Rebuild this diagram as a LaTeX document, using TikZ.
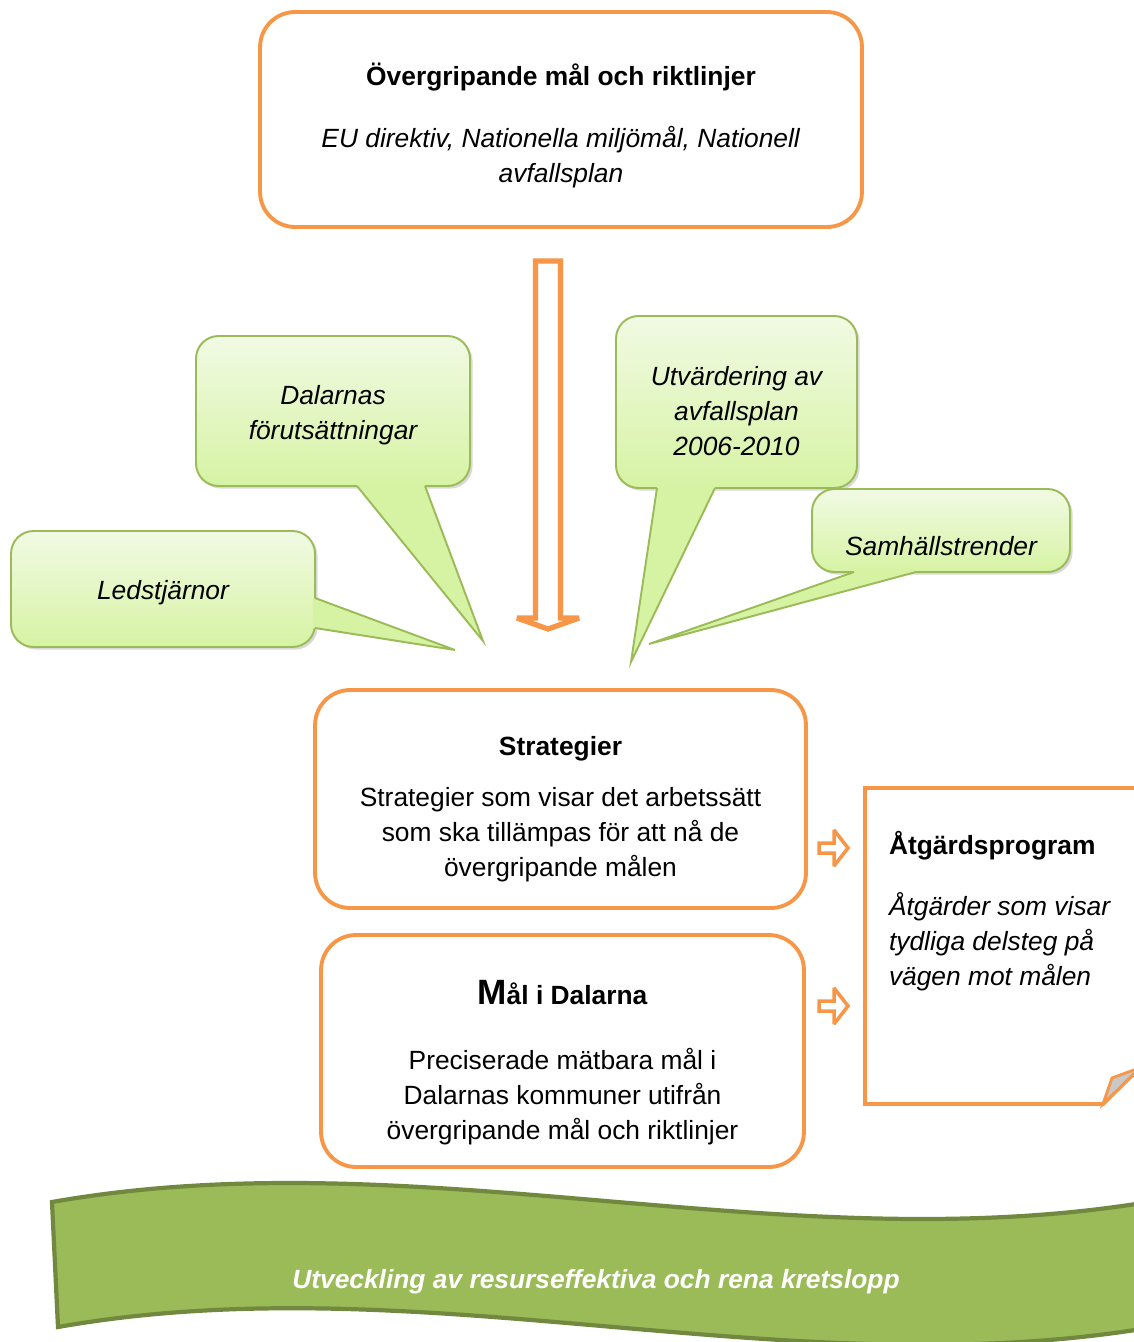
\documentclass[tikz,border=0pt]{standalone}
\usepackage{fontspec}
\setmainfont{Liberation Sans}
\usetikzlibrary{shapes,arrows,calc,shadows,positioning}
\definecolor{orangeline}{HTML}{F79646}
\definecolor{greenline}{HTML}{9BBB59}
\definecolor{greentop}{HTML}{F1FAE4}
\definecolor{greenbottom}{HTML}{D6F3A3}
\definecolor{bandfill}{HTML}{9BBB59}
\definecolor{bandline}{HTML}{71893F}
\definecolor{foldgray}{HTML}{C9C9C9}

\begin{document}
\begin{tikzpicture}[x=0.02cm, y=-0.02cm, outer sep=0pt, >=latex',
  every node/.style={font=\fontsize{15}{19.9}\selectfont},
  planbox/.style={draw=orangeline, line width=2.2pt, rounded corners=0.7cm, fill=white, align=center},
  bubble/.style={draw=greenline, line width=1.1pt, rounded corners=0.45cm, top color=greentop, bottom color=greenbottom, align=center, font=\fontsize{15}{19.9}\selectfont\itshape, drop shadow={shadow xshift=1.5pt, shadow yshift=-1.5pt, opacity=0.3}},
  tail/.style={fill=greenbottom},
  tailline/.style={draw=greenline, line width=1.1pt, line join=miter},
  blockarrow/.style={draw=orangeline, fill=white, line join=miter, miter limit=3}]

\useasboundingbox (0,0) rectangle (1133,1342);

\node at (561, 119.5) (goal) [planbox, minimum width=12.04cm, minimum height=4.3cm]
  {\rule{0pt}{23pt}\textbf{Övergripande mål och riktlinjer}\\[0.54cm]
   \textit{EU direktiv, Nationella miljömål, Nationell}\\
   \textit{avfallsplan}\rule[-6pt]{0pt}{6pt}};

\draw [blockarrow, line width=3pt] (535.5,261) -- (560.5,261) -- (560.5,618) -- (579,618) -- (548,629) -- (517,618) -- (535.5,618) -- cycle;

% callouts
\node at (333, 411) (dal) [bubble, minimum width=5.48cm, minimum height=3cm] {\rule{0pt}{18.4pt}Dalarnas\\förutsättningar\rule[-6pt]{0pt}{6pt}};
\coordinate (dtip) at (483, 641);
\fill [tail] ($(dal.south)+(24,-2)$) -- ($(dal.south)+(24,0)$) -- (dtip) -- ($(dal.south)+(92,0)$) -- ($(dal.south)+(92,-2)$) -- cycle;
\draw [tailline] ($(dal.south)+(24,0)$) -- (dtip) -- ($(dal.south)+(92,0)$);

\node at (163, 589) (led) [bubble, minimum width=6.08cm, minimum height=2.32cm, text height=18.4pt, text depth=6pt] {Ledstjärnor};
\coordinate (ltip) at (455, 650);
\fill [tail] ($(led.east)+(-2,9)$) -- ($(led.east)+(0,9)$) -- (ltip) -- ($(led.east)+(0,39)$) -- ($(led.east)+(-2,39)$) -- cycle;
\draw [tailline] ($(led.east)+(0,9)$) -- (ltip) -- ($(led.east)+(0,39)$);

\node at (736.5, 402) (utv) [bubble, minimum width=4.82cm, minimum height=3.44cm] {\rule{0pt}{27.5pt}Utvärdering av\\avfallsplan\\2006-2010\rule[-6pt]{0pt}{6pt}};
\coordinate (utip) at (631, 662);
\fill [tail] ($(utv.south)+(-79.5,-2)$) -- ($(utv.south)+(-79.5,0)$) -- (utip) -- ($(utv.south)+(-21.5,0)$) -- ($(utv.south)+(-21.5,-2)$) -- cycle;
\draw [tailline] ($(utv.south)+(-79.5,0)$) -- (utip) -- ($(utv.south)+(-21.5,0)$);

\node at (941, 530.5) (sam) [bubble, minimum width=5.16cm, minimum height=1.66cm, text height=1cm] {Samhällstrender};
\coordinate (stip) at (649, 644);
\fill [tail] ($(sam.south)+(-87,-2)$) -- ($(sam.south)+(-87,0)$) -- (stip) -- ($(sam.south)+(-25,0)$) -- ($(sam.south)+(-25,-2)$) -- cycle;
\draw [tailline] ($(sam.south)+(-87,0)$) -- (stip) -- ($(sam.south)+(-25,0)$);

\node at (560.5, 799) (strat) [planbox, minimum width=9.82cm, minimum height=4.36cm]
  {\rule{0pt}{25pt}\textbf{Strategier}\\[0.32cm]
   Strategier som visar det arbetssätt\\
   som ska tillämpas för att nå de\\
   övergripande målen\rule[-6pt]{0pt}{6pt}};

\node at (562.5, 1051) (maal) [planbox, minimum width=9.66cm, minimum height=4.64cm]
  {\rule{0pt}{30.3pt}\textbf{{\fontsize{20}{19.9}\selectfont M}ål i Dalarna}\\[0.6cm]
   Preciserade mätbara mål i\\
   Dalarnas kommuner utifrån\\
   övergripande mål och riktlinjer\rule[-6pt]{0pt}{6pt}};

\draw [blockarrow, line width=2pt] (819,843) -- (834,843) -- (834,830) -- (848,848) -- (834,866) -- (834,853) -- (819,853) -- cycle;
\draw [blockarrow, line width=2pt] (819,1001) -- (834,1001) -- (834,988) -- (848,1006) -- (834,1024) -- (834,1011) -- (819,1011) -- cycle;

% folded note
\draw [draw=orangeline, line width=2.2pt, fill=white] (865,788) -- (1160,788) -- (1160,1048) -- (1103,1104) -- (865,1104) -- cycle;
\draw [draw=orangeline, line width=1.6pt, fill=foldgray] (1103,1104) -- (1112,1078) -- (1140,1067.7) -- cycle;
\node at (889, 831) (atg) [anchor=north west, align=left, inner sep=0pt]
  {\textbf{Åtgärdsprogram}\\[0.52cm]
   \textit{Åtgärder som visar}\\
   \textit{tydliga delsteg på}\\
   \textit{vägen mot målen}};

% banner
\draw [fill=bandfill, draw=bandline, line width=2.4pt] (52,1202) .. controls (421,1137) and (790,1265) .. (1160,1200) -- (1165,1325) .. controls (795,1392) and (426,1262) .. (58,1327) -- cycle;
\node at (596, 1282) (band) [text=white, font=\fontsize{15}{19.9}\selectfont\bfseries\itshape] {Utveckling av resurseffektiva och rena kretslopp};
\end{tikzpicture}
\end{document}
